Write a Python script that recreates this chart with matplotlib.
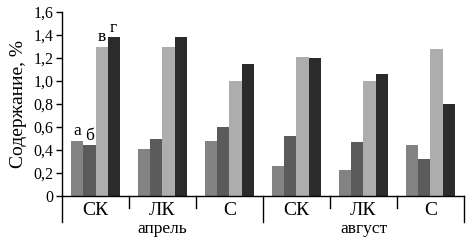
import numpy as np
import matplotlib.pyplot as plt

# Data
groups = ["СК", "ЛК", "С", "СК", "ЛК", "С"]
months = ["апрель", "август"]
series_a = [0.48, 0.41, 0.475, 0.26, 0.23, 0.44]
series_b = [0.44, 0.50, 0.60, 0.52, 0.47, 0.32]
series_v = [1.30, 1.30, 1.00, 1.21, 1.00, 1.28]
series_g = [1.38, 1.38, 1.15, 1.20, 1.06, 0.80]
letters = ["а", "б", "в", "г"]
yticks = [0, 0.2, 0.4, 0.6, 0.8, 1.0, 1.2, 1.4, 1.6]

colors = ["#838383", "#5b5b5b", "#adadad", "#2b2b2b"]

plt.rcParams['font.family'] = ['Liberation Serif', 'DejaVu Serif']

fig = plt.figure(figsize=(4.72, 2.42), dpi=100)
ax = fig.add_axes([62/472, 1 - 196/242, (464-62)/472, (196-12)/242])

w = 0.18
x = np.arange(len(groups)) + 0.5
all_series = [series_a, series_b, series_v, series_g]
for k, (vals, c) in enumerate(zip(all_series, colors)):
    xs = x + (k - 1.5) * w
    ax.bar(xs, vals, width=w, color=c, edgecolor='none')
    # letters above the first group
    ax.text(xs[0], vals[0] + 0.015, letters[k], ha='center', va='bottom',
            fontsize=12.5)

ax.set_xlim(0, 6)
ax.set_ylim(0, 1.6)
ax.set_yticks(yticks)
ax.set_yticklabels([("%.1f" % v).replace(".", ",") if v else "0" for v in yticks],
                   fontsize=11.5)
ax.set_xticks([])
ax.tick_params(axis='y', direction='out', length=4, width=1, pad=2)
for s in ['top', 'right']:
    ax.spines[s].set_visible(False)
ax.spines['left'].set_linewidth(1)
ax.spines['bottom'].set_linewidth(1)
ax.set_ylabel("Содержание, %", fontsize=14, labelpad=5)

# group separators under the axis
tr = ax.get_xaxis_transform()
for b in range(7):
    low = -0.14 if b in (0, 3, 6) else -0.065
    ax.plot([b, b], [0, low], color='black', lw=1, transform=tr, clip_on=False)
for xi, g in zip(x, groups):
    ax.text(xi, -0.08, g, ha='center', va='center', fontsize=14, transform=tr)
for m, xm in zip(months, [1.5, 4.5]):
    ax.text(xm, -0.18, m, ha='center', va='center', fontsize=12.5, transform=tr)

fig.savefig("out.png", dpi=100)
